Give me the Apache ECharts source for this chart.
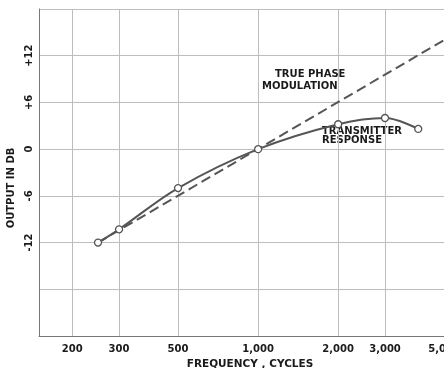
<!DOCTYPE html>
<html>
<head>
<meta charset="utf-8">
<script src="https://cdn.jsdelivr.net/npm/echarts@6/dist/echarts.min.js"></script>
<style>html,body{margin:0;padding:0;background:#fff}#c{width:444px;height:368px}</style>
</head>
<body>
<div id="c"></div>
<script>
const freqTicks = [200, 300, 500, 1000, 2000, 3000, 5000];
const freqTickLabels = ['200', '300', '500', '1,000', '2,000', '3,000', '5,000'];
const responseFreq = [250, 300, 500, 1000, 2000, 3000, 4000];
const responseDb = [-12, -10.3, -5, 0, 3.2, 4.0, 2.6];
const phaseFreq = [250, 5000];
const phaseDb = [-12, 14];
const dbLabels = { '12': '+12', '6': '+6', '0': '0', '-6': '-6', '-12': '-12' };

const labelMap = {};
freqTicks.forEach((f, i) => { labelMap[f] = freqTickLabels[i]; });

const chart = echarts.init(document.getElementById('c'), null, { renderer: 'canvas' });
const FONT = '"DejaVu Sans", sans-serif';
chart.setOption({
  animation: false,
  backgroundColor: '#ffffff',
  grid: { left: 39, right: 0, top: 9, bottom: 32, containLabel: false, outerBoundsMode: 'none' },
  xAxis: {
    type: 'log', logBase: 10, min: 150, max: 5000,
    name: 'FREQUENCY , CYCLES', nameLocation: 'middle', nameGap: 17,
    nameTextStyle: { fontFamily: FONT, fontWeight: 'bold', fontSize: 10.5, color: '#1a1a1a', padding: [0, 0, 0, 17] },
    axisLine: { show: true, onZero: false, lineStyle: { color: '#777', width: 1 } },
    axisTick: { show: false, customValues: freqTicks },
    axisLabel: { customValues: freqTicks, formatter: v => labelMap[Math.round(v)] || '', fontFamily: FONT, fontWeight: 'bold', fontSize: 10, color: '#1a1a1a', margin: 8 },
    splitLine: { show: true, lineStyle: { color: '#bdbdbd', width: 1 } },
    minorSplitLine: { show: false }
  },
  yAxis: {
    type: 'value', min: -24, max: 18, interval: 6,
    name: 'OUTPUT IN DB', nameLocation: 'middle', nameGap: 23,
    nameTextStyle: { fontFamily: FONT, fontWeight: 'bold', fontSize: 10, color: '#1a1a1a', padding: [0, 31, 0, 0] },
    axisLine: { show: true, onZero: false, lineStyle: { color: '#777', width: 1 } },
    axisTick: { show: false },
    axisLabel: { rotate: 90, formatter: v => dbLabels[String(v)] || '', fontFamily: FONT, fontWeight: 'bold', fontSize: 10, color: '#1a1a1a', margin: 5 },
    splitLine: { show: true, lineStyle: { color: '#bdbdbd', width: 1 } }
  },
  series: [
    {
      name: 'True phase modulation', type: 'line',
      data: phaseFreq.map((f, i) => [f, phaseDb[i]]),
      showSymbol: false, symbol: 'none',
      lineStyle: { color: '#555', width: 2, type: [10, 5] },
      z: 3
    },
    {
      name: 'Transmitter response', type: 'line',
      data: responseFreq.map((f, i) => [f, responseDb[i]]),
      smooth: 0.35,
      symbol: 'circle', symbolSize: 7,
      itemStyle: { color: '#ffffff', borderColor: '#555', borderWidth: 1.3 },
      lineStyle: { color: '#555', width: 2 },
      z: 4
    }
  ],
  graphic: [
    { type: 'text', left: 275, top: 69, style: { text: 'TRUE PHASE', font: 'bold 10px ' + FONT, fill: '#1a1a1a' } },
    { type: 'text', left: 262, top: 81, style: { text: 'MODULATION', font: 'bold 10px ' + FONT, fill: '#1a1a1a' } },
    { type: 'text', left: 322, top: 126, style: { text: 'TRANSMITTER', font: 'bold 10px ' + FONT, fill: '#1a1a1a' } },
    { type: 'text', left: 322, top: 135, style: { text: 'RESPONSE', font: 'bold 10px ' + FONT, fill: '#1a1a1a' } }
  ]
});
</script>
</body>
</html>
